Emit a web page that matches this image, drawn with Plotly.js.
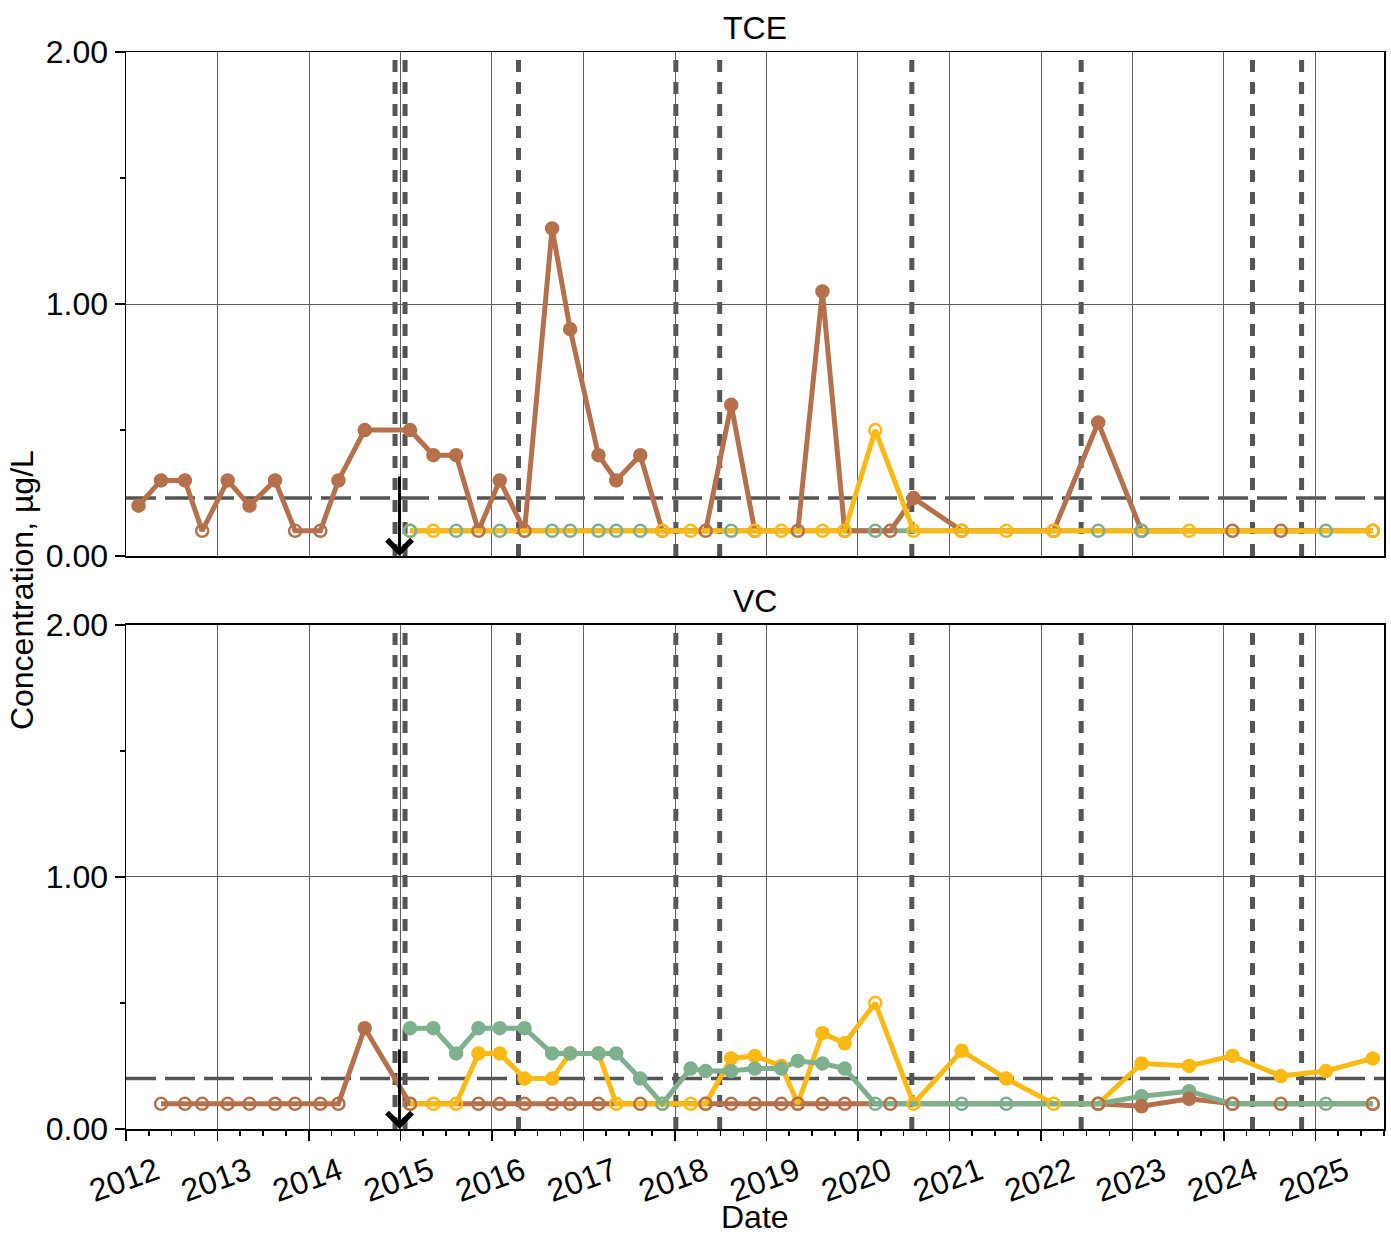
<!DOCTYPE html>
<html>
<head>
<meta charset="utf-8">
<script src="https://cdn.plot.ly/plotly-3.0.1.min.js"></script>
<style>html,body{margin:0;padding:0;background:#fff;}#chart{width:1391px;height:1235px;}</style>
</head>
<body>
<div id="chart"></div>
<script>
// ---------------- DATA ----------------
const panelTitles = ['TCE', 'VC'];
const seriesColors = {brown: '#b5714b', green: '#7fb08e', yellow: '#fbb913'};

// TCE panel
const tceBrownDates = ['2012-02-20','2012-05-20','2012-08-23','2012-10-31','2013-02-10','2013-05-08','2013-08-18','2013-11-06','2014-02-15','2014-04-28','2014-08-11','2015-02-08','2015-05-12','2015-08-11','2015-11-08','2016-02-01','2016-05-10','2016-08-28','2016-11-08','2017-03-01','2017-05-11','2017-08-15','2017-11-11','2018-05-03','2018-08-13','2018-11-15','2019-05-06','2019-08-12','2019-11-09','2020-05-09','2020-08-10','2021-02-18','2022-02-20','2022-08-17','2023-02-06','2024-02-04','2024-08-15','2025-08-17'];
const tceBrownVals  = [0.2,0.3,0.3,0.1,0.3,0.2,0.3,0.1,0.1,0.3, 0.5,0.5,0.4,0.4,0.1,0.3,0.1,1.3,0.9,0.4, 0.3,0.4,0.1,0.1,0.6,0.1,0.1,1.05,0.1,0.1, 0.23,0.1,0.1,0.53,0.1,0.1,0.1,0.1];
const tceBrownDet   = [1,1,1,0,1,1,1,0,0,1, 1,1,1,1,0,1,0,1,1,1, 1,1,0,0,1,0,0,1,0,0, 1,0,0,1,0,0,0,0];

const tceGreenDates = ['2015-02-08','2015-08-11','2016-02-01','2016-08-28','2016-11-08','2017-03-01','2017-05-11','2017-08-15','2018-08-13','2020-03-10','2022-08-17','2023-02-06','2025-02-11'];
const tceGreenVals  = [0.1,0.1,0.1,0.1,0.1,0.1,0.1,0.1,0.1,0.1,0.1,0.1,0.1];
const tceGreenDet   = [0,0,0,0,0,0,0,0,0,0,0,0,0];

const tceYellowDates = ['2015-02-08','2015-05-12','2017-11-11','2018-03-04','2018-11-15','2019-03-01','2019-08-12','2019-11-09','2020-03-10','2020-08-10','2021-02-18','2021-08-15','2022-02-20','2023-08-15','2025-08-17'];
const tceYellowVals  = [0.1,0.1,0.1,0.1,0.1,0.1,0.1,0.1,0.5,0.1,0.1,0.1,0.1,0.1,0.1];
const tceYellowDet   = [0,0,0,0,0,0,0,0,0,0,0,0,0,0,0];

// VC panel
const vcBrownDates = ['2012-05-20','2012-08-23','2012-10-31','2013-02-10','2013-05-08','2013-08-18','2013-11-06','2014-02-15','2014-04-28','2014-08-11','2015-02-08','2015-11-08','2016-02-01','2016-05-10','2016-08-28','2016-11-08','2017-03-01','2017-08-15','2018-05-03','2018-08-13','2018-11-15','2019-03-01','2019-05-06','2019-08-12','2019-11-09','2020-05-09','2022-08-17','2023-02-06','2023-08-15','2024-02-04','2024-08-15','2025-08-17'];
const vcBrownVals  = [0.1,0.1,0.1,0.1,0.1,0.1,0.1,0.1,0.1,0.4, 0.1,0.1,0.1,0.1,0.1,0.1,0.1,0.1,0.1,0.1, 0.1,0.1,0.1,0.1,0.1,0.1,0.1,0.09,0.12,0.1, 0.1,0.1];
const vcBrownDet   = [0,0,0,0,0,0,0,0,0,1, 0,0,0,0,0,0,0,0,0,0, 0,0,0,0,0,0,0,1,1,0, 0,0];

const vcGreenDates = ['2015-02-08','2015-05-12','2015-08-11','2015-11-08','2016-02-01','2016-05-10','2016-08-28','2016-11-08','2017-03-01','2017-05-11','2017-08-15','2017-11-11','2018-03-04','2018-05-03','2018-08-13','2018-11-15','2019-03-01','2019-05-06','2019-08-12','2019-11-09','2020-03-10','2021-02-18','2021-08-15','2022-08-17','2023-02-06','2023-08-15','2024-02-04','2025-02-11','2025-08-17'];
const vcGreenVals  = [0.4,0.4,0.3,0.4,0.4,0.4,0.3,0.3,0.3,0.3, 0.2,0.1,0.24,0.23,0.23,0.24,0.24,0.27,0.26,0.24, 0.1,0.1,0.1,0.1,0.13,0.15,0.1,0.1,0.1];
const vcGreenDet   = [1,1,1,1,1,1,1,1,1,1, 1,0,1,1,1,1,1,1,1,1, 0,0,0,0,1,1,0,0,0];

const vcYellowDates = ['2015-02-08','2015-05-12','2015-08-11','2015-11-08','2016-02-01','2016-05-10','2016-08-28','2016-11-08','2017-03-01','2017-05-11','2017-11-11','2018-03-04','2018-05-03','2018-08-13','2018-11-15','2019-03-01','2019-05-06','2019-08-12','2019-11-09','2020-03-10','2020-08-10','2021-02-18','2021-08-15','2022-02-20','2022-08-17','2023-02-06','2023-08-15','2024-02-04','2024-08-15','2025-02-11','2025-08-17'];
const vcYellowVals  = [0.1,0.1,0.1,0.3,0.3,0.2,0.2,0.3,0.3,0.1, 0.1,0.1,0.1,0.28,0.29,0.25,0.1,0.38,0.34,0.5, 0.1,0.31,0.2,0.1,0.1,0.26,0.25,0.29,0.21,0.23, 0.28];
const vcYellowDet   = [0,0,0,1,1,1,1,1,1,0, 0,0,0,1,1,1,0,1,1,0, 0,1,1,0,0,1,1,1,1,1, 1];

// reference levels and event markers
const tceLimit = 0.23;
const vcLimit = 0.2;
const eventDates = ['2014-12-10','2015-01-19','2016-04-16','2018-01-04','2018-06-28','2020-08-03','2022-06-10','2024-04-24','2024-11-06'];
const arrowDate = '2014-12-28';
const xStart = '2012-01-01';
const xEnd = '2025-10-01';
const yTitle = 'Concentration, µg/L';
const xTitle = 'Date';

// ---------------- BUILD ----------------
function lineTrace(dates, vals, color, xa, ya) {
  return {x: dates, y: vals, xaxis: xa, yaxis: ya, type: 'scatter', mode: 'lines',
          line: {color: color, width: 5}, hoverinfo: 'skip', showlegend: false};
}
function markerTrace(dates, vals, det, color, xa, ya) {
  return {x: dates, y: vals, xaxis: xa, yaxis: ya, type: 'scatter', mode: 'markers',
          marker: {size: 12, color: color,
                   symbol: det.map(d => d ? 'circle' : 'circle-open'),
                   line: {color: color, width: 2.5}},
          hoverinfo: 'skip', showlegend: false};
}
const C = seriesColors;
const traces = [
  lineTrace(tceGreenDates, tceGreenVals, C.green, 'x', 'y'),
  lineTrace(tceBrownDates, tceBrownVals, C.brown, 'x', 'y'),
  lineTrace(tceYellowDates, tceYellowVals, C.yellow, 'x', 'y'),
  markerTrace(tceBrownDates, tceBrownVals, tceBrownDet, C.brown, 'x', 'y'),
  markerTrace(tceYellowDates, tceYellowVals, tceYellowDet, C.yellow, 'x', 'y'),
  markerTrace(tceGreenDates, tceGreenVals, tceGreenDet, C.green, 'x', 'y'),
  lineTrace(vcBrownDates, vcBrownVals, C.brown, 'x2', 'y2'),
  lineTrace(vcYellowDates, vcYellowVals, C.yellow, 'x2', 'y2'),
  lineTrace(vcGreenDates, vcGreenVals, C.green, 'x2', 'y2'),
  markerTrace(vcYellowDates, vcYellowVals, vcYellowDet, C.yellow, 'x2', 'y2'),
  markerTrace(vcGreenDates, vcGreenVals, vcGreenDet, C.green, 'x2', 'y2'),
  markerTrace(vcBrownDates, vcBrownVals, vcBrownDet, C.brown, 'x2', 'y2')
];

const topDom = [0.532, 1];
const botDom = [0, 0.468];
const fontFam = 'Liberation Sans, Arial, sans-serif';

const shapes = [];
[['x', 'y', topDom], ['x2', 'y2', botDom]].forEach(([xa, ya, dom]) => {
  eventDates.forEach(d => shapes.push({type: 'line', layer: 'below', xref: xa, yref: 'paper',
    x0: d, x1: d, y0: dom[0], y1: dom[1], line: {color: '#555555', width: 5, dash: '12px,10px'}}));
});
shapes.push({type: 'line', layer: 'below', xref: 'paper', yref: 'y', x0: 0, x1: 1, y0: tceLimit, y1: tceLimit,
  line: {color: '#555555', width: 3.5, dash: '30px,9px'}});
shapes.push({type: 'line', layer: 'below', xref: 'paper', yref: 'y2', x0: 0, x1: 1, y0: vcLimit, y1: vcLimit,
  line: {color: '#555555', width: 3.5, dash: '30px,9px'}});

const annotations = [
  {text: panelTitles[0], xref: 'paper', yref: 'paper', x: 0.5, y: topDom[1], xanchor: 'center', yanchor: 'bottom', yshift: 4, showarrow: false, font: {size: 32}},
  {text: panelTitles[1], xref: 'paper', yref: 'paper', x: 0.5, y: botDom[1], xanchor: 'center', yanchor: 'bottom', yshift: 4, showarrow: false, font: {size: 32}},
  {text: yTitle, xref: 'paper', yref: 'paper', x: -0.083, y: 0.5, xanchor: 'center', yanchor: 'middle', textangle: -90, showarrow: false, font: {size: 32}},
  {text: xTitle, xref: 'paper', yref: 'paper', x: 0.5, y: -0.082, xanchor: 'center', yanchor: 'middle', showarrow: false, font: {size: 32}},
  {text: '', x: arrowDate, y: 0, xref: 'x', yref: 'y', ax: 0, ay: -81, showarrow: true, arrowhead: 4, arrowsize: 1.6, arrowwidth: 3, arrowcolor: '#000'},
  {text: '', x: arrowDate, y: 0, xref: 'x2', yref: 'y2', ax: 0, ay: -81, showarrow: true, arrowhead: 4, arrowsize: 1.6, arrowwidth: 3, arrowcolor: '#000'}
];

const xBase = {type: 'date', range: [xStart, xEnd], tick0: xStart, dtick: 'M12', showgrid: true, gridcolor: '#5e5e5e', gridwidth: 1,
  showline: true, mirror: true, linecolor: '#000', linewidth: 1.5, zeroline: false};
const yBase = {range: [0, 2], tick0: 0, dtick: 1, tickformat: '.2f', ticks: 'outside', ticklen: 10, tickwidth: 1.5, tickcolor: '#000',
  showgrid: true, gridcolor: '#5e5e5e', gridwidth: 1, showline: true, mirror: true, linecolor: '#000', linewidth: 1.5, zeroline: false,
  minor: {dtick: 0.5, ticks: 'outside', ticklen: 5, tickwidth: 1.5, tickcolor: '#000', showgrid: false},
  tickfont: {size: 32}};

const layout = {
  width: 1391, height: 1235,
  margin: {l: 126, r: 7, t: 52, b: 106},
  paper_bgcolor: '#fff', plot_bgcolor: '#fff',
  font: {family: fontFam, size: 32, color: '#000'},
  showlegend: false,
  xaxis: Object.assign({}, xBase, {anchor: 'y', domain: [0, 1], showticklabels: false, ticks: ''}),
  yaxis: Object.assign({}, yBase, {anchor: 'x', domain: topDom}),
  xaxis2: Object.assign({}, xBase, {anchor: 'y2', domain: [0, 1], showticklabels: true, tickformat: '%Y', tickangle: -20,
    ticks: 'outside', ticklen: 10, tickwidth: 1.5, tickcolor: '#000', ticklabelshift: 30, tickfont: {size: 32},
    minor: {dtick: 'M3', ticks: 'outside', ticklen: 5, tickwidth: 1.5, tickcolor: '#000', showgrid: false}}),
  yaxis2: Object.assign({}, yBase, {anchor: 'x2', domain: botDom}),
  shapes: shapes,
  annotations: annotations
};

Plotly.newPlot('chart', traces, layout, {staticPlot: true, displayModeBar: false});
</script>
</body>
</html>
